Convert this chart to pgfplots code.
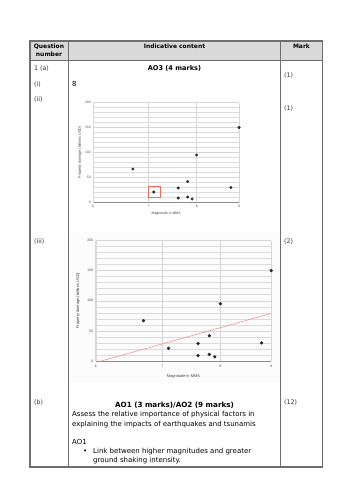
\documentclass[border=0pt]{standalone}
\usepackage{pgfplots}
\pgfplotsset{compat=1.18}
\usepackage{fontspec}
\setmainfont{DejaVu Sans}
\newfontfamily\chartfont{Liberation Sans}
\definecolor{boxred}{RGB}{226,112,98}
\definecolor{trendred}{RGB}{240,150,150}
\definecolor{hdr}{RGB}{218,218,218}
\definecolor{frame}{RGB}{110,110,110}
\newcommand{\TL}[3]{\node[anchor=mid west, inner sep=0pt] at (#1bp,-#2bp) {#3};}
\newcommand{\TC}[3]{\node[anchor=mid, inner sep=0pt] at (#1bp,-#2bp) {#3};}
\pgfplotstableread{
x y
6.7 67
7.1 21
7.6 29
7.6 9
7.8 42
7.8 11
7.9 7
8.0 95
8.8 30
9.0 150
}\quakes
\begin{document}
\begin{tikzpicture}[font=\fontsize{7}{8.5}\selectfont]
\useasboundingbox (0bp,0bp) rectangle (354bp,-500bp);
\fill[white] (0bp,0bp) rectangle (354bp,-500bp);
% header fill
\fill[hdr] (30bp,-41bp) rectangle (322.5bp,-60.5bp);
% plot 3 faint background
\fill[black!1.2] (70bp,-232bp) rectangle (279.5bp,-383bp);
% table lines
\draw[frame, line width=0.8bp] (68.3bp,-41bp) -- (68.3bp,-467bp);
\draw[frame, line width=0.8bp] (280.7bp,-41bp) -- (280.7bp,-467bp);
\draw[frame, line width=1.3bp] (30bp,-60.5bp) -- (322.5bp,-60.5bp);
\draw[frame, line width=1.3bp] (30bp,-41bp) rectangle (322.5bp,-467bp);
% header text
\begin{scope}[font=\fontsize{6}{7}\selectfont\bfseries]
\TC{49}{46}{Question}
\TC{49}{53.5}{number}
\TC{174.5}{46}{Indicative content}
\TC{301.5}{46}{Mark}
\end{scope}
% left / right column labels
\begin{scope}[font=\fontsize{6.3}{7.5}\selectfont, text=black!80]
\TL{34}{68}{1 (a)}
\TL{34}{83.5}{(i)}
\TL{34}{99}{(ii)}
\TL{34}{240.5}{(iii)}
\TL{34}{401.7}{(b)}
\TL{284}{75}{(1)}
\TL{284}{108}{(1)}
\TL{284}{240.5}{(2)}
\TL{284}{401.3}{(12)}
\end{scope}
% indicative content text
\node[anchor=mid, inner sep=0pt, font=\fontsize{6.6}{8}\selectfont\bfseries] at (174.5bp,-68bp) {AO3 (4 marks)};
\TL{72}{84}{8}
\node[anchor=mid, inner sep=0pt, font=\fontsize{7.2}{8}\selectfont\bfseries] at (174.5bp,-404.3bp) {AO1 (3 marks)/AO2 (9 marks)};
\TL{72}{414}{Assess the relative importance of physical factors in}
\TL{72}{423.7}{explaining the impacts of earthquakes and tsunamis}
\TL{72}{442}{AO1}
\node[anchor=mid, inner sep=0pt] at (85.3bp,-450.7bp) {\textbullet};
\TL{93}{450.7}{Link between higher magnitudes and greater}
\TL{93}{459.7}{ground shaking intensity.}

% ---------- plot (ii) ----------
\begin{axis}[
  xmode=log,
  scale only axis, anchor=south west,
  at={(93.3bp,-202.5bp)}, width=145.7bp, height=100bp,
  xmin=6, xmax=9, ymin=0, ymax=200,
  xtick={6,7,8,9}, xticklabels={6,7,8,9},
  ytick={0,50,100,150,200},
  minor ytick={10,20,30,40,60,70,80,90,110,120,130,140,160,170,180,190},
  xmajorgrids, ymajorgrids, yminorgrids,
  major grid style={draw=black!16, line width=0.5bp},
  minor grid style={draw=black!14, line width=0.5bp},
  major tick length=0pt, minor tick length=0pt,
  axis lines*=left,
  x axis line style={draw=black!45, line width=0.5bp, -},
  y axis line style={draw=black!15, line width=0.4bp, -},
  /pgf/number format/assume math mode=true,
  yticklabel style={anchor=east, inner sep=0pt, xshift=-2.5bp},
  clip=false,
  xlabel={Magnitude in MMS},
  ylabel={Property damage (billions USD)},
  tick label style={font=\chartfont\fontsize{3.3}{3.6}\selectfont, text=black!70},
  xticklabel style={anchor=center, yshift=-3.8bp},
  xlabel style={at={(axis description cs:0.5,-0.115)}, anchor=center, font=\chartfont\fontsize{3.5}{4}\selectfont, text=black!75},
  ylabel style={at={(axis description cs:-0.0913,0.5)}, anchor=center, font=\chartfont\fontsize{3.7}{4}\selectfont, text=black!75},
]
\addplot[only marks, mark=*, mark size=1.25bp, draw=black!85, fill=black!85] table[x=x,y=y] {\quakes};
\addplot[mark=none, draw=boxred, line width=0.8bp] coordinates {(7.0,10) (7.23,10) (7.23,31.5) (7.0,31.5) (7.0,10)};
\end{axis}

% ---------- plot (iii) ----------
\begin{axis}[
  xmode=log,
  scale only axis, anchor=south west,
  at={(95.7bp,-361bp)}, width=175.6bp, height=120.5bp,
  xmin=6, xmax=9, ymin=0, ymax=200,
  xtick={6,7,8,9}, xticklabels={6,7,8,9},
  ytick={0,50,100,150,200},
  minor ytick={10,20,30,40,60,70,80,90,110,120,130,140,160,170,180,190},
  xmajorgrids, ymajorgrids, yminorgrids,
  major grid style={draw=black!16, line width=0.5bp},
  minor grid style={draw=black!14, line width=0.5bp},
  major tick length=0pt, minor tick length=0pt,
  axis lines*=left,
  x axis line style={draw=black!45, line width=0.5bp, -},
  y axis line style={draw=black!15, line width=0.4bp, -},
  /pgf/number format/assume math mode=true,
  yticklabel style={anchor=east, inner sep=0pt, xshift=-2.5bp},
  clip=false,
  xlabel={Magnitude in MMS},
  ylabel={Property damage (billions USD)},
  tick label style={font=\chartfont\fontsize{3.4}{3.7}\selectfont, text=black!70},
  xticklabel style={anchor=center, yshift=-5bp},
  xlabel style={at={(axis description cs:0.5,-0.1245)}, anchor=center, font=\chartfont\fontsize{4}{4.5}\selectfont, text=black!75},
  ylabel style={at={(axis description cs:-0.1008,0.5)}, anchor=center, font=\chartfont\fontsize{4}{4.5}\selectfont, text=black!75},
]
\addplot[mark=none, draw=trendred, line width=0.6bp] coordinates {(6.076,0) (9,79)};
\addplot[only marks, mark=*, mark size=1.45bp, draw=black!85, fill=black!85] table[x=x,y=y] {\quakes};
\end{axis}
\end{tikzpicture}
\end{document}
